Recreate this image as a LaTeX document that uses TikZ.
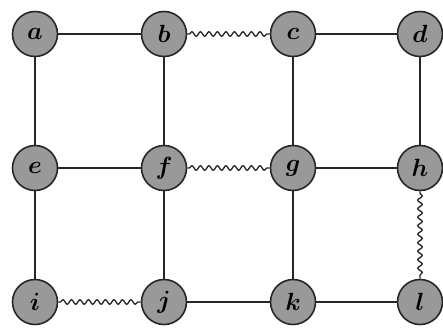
\documentclass[tikz,border=0pt]{standalone}
\usetikzlibrary{decorations.pathmorphing}
\begin{document}
\begin{tikzpicture}[x=1pt,y=-1pt,
  vert/.style={circle,draw=black!85,line width=1.6pt,fill=black!40,minimum size=45pt,inner sep=0pt,font=\fontsize{27}{30}\selectfont\boldmath},
  edge/.style={line width=1.3pt,black!85},
  wavy/.style={edge,decorate,decoration={snake,amplitude=2.3pt,segment length=8.5pt,pre length=2pt,post length=2pt}}]
\useasboundingbox (0,0) rectangle (443,329);
\node[vert] (a) at (35,34) {$a$};
\node[vert] (b) at (164,34) {$b$};
\node[vert] (c) at (293,34) {$c$};
\node[vert] (d) at (420,34) {$d$};
\node[vert] (e) at (35,168) {$e$};
\node[vert] (f) at (164,168) {$f$};
\node[vert] (g) at (293,168) {$g$};
\node[vert] (h) at (420,168) {$h$};
\node[vert] (i) at (35,302) {$i$};
\node[vert] (j) at (164,302) {$j$};
\node[vert] (k) at (293,302) {$k$};
\node[vert] (l) at (420,302) {$l$};
\draw[edge] (a) -- (b);
\draw[wavy] (b) -- (c);
\draw[edge] (c) -- (d);
\draw[edge] (e) -- (f);
\draw[wavy] (f) -- (g);
\draw[edge] (g) -- (h);
\draw[wavy] (i) -- (j);
\draw[edge] (j) -- (k);
\draw[edge] (k) -- (l);
\draw[edge] (a) -- (e);
\draw[edge] (e) -- (i);
\draw[edge] (b) -- (f);
\draw[edge] (f) -- (j);
\draw[edge] (c) -- (g);
\draw[edge] (g) -- (k);
\draw[edge] (d) -- (h);
\draw[wavy] (h) -- (l);
\end{tikzpicture}
\end{document}
